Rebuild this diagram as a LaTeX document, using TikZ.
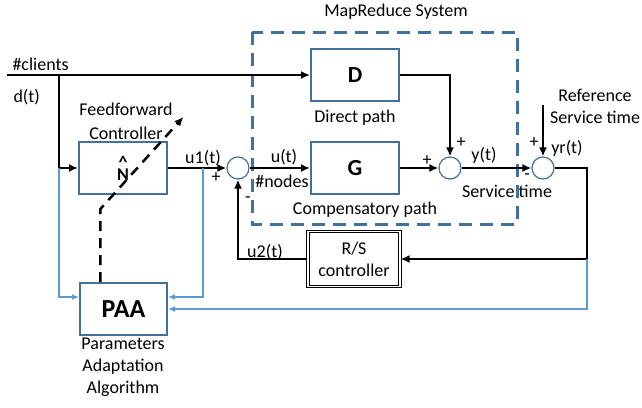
\documentclass[tikz,border=0pt]{standalone}
\usepackage{fontspec}
\setmainfont{Carlito}
\usetikzlibrary{arrows.meta,calc}
\definecolor{steel}{RGB}{65,113,156}
\definecolor{lblue}{RGB}{91,155,213}

\begin{document}
\begin{tikzpicture}[x=1pt, y=-1pt, font=\fontsize{18}{22}\selectfont, >={Latex[length=9pt,width=8pt]}]
\tikzstyle{block}=[draw=steel, line width=2pt, inner sep=0pt, minimum width=88pt, minimum height=52pt, text centered]
\tikzstyle{rsblock}=[draw, line width=1.3pt, double distance=1.2pt, inner sep=0pt, minimum width=92pt, minimum height=55pt, align=center]
\tikzstyle{sum}=[circle, draw=steel, line width=1.2pt, minimum size=22pt, inner sep=0pt]
\tikzstyle{line}=[line width=2.5pt]
\tikzstyle{bline}=[draw=lblue, line width=2pt, >={Latex[length=7pt,width=6pt]}]
\tikzstyle{aline}=[line width=2.5pt, dash pattern=on 10pt off 7pt]
\tikzstyle{big}=[font=\fontsize{23}{26}\selectfont\bfseries]
\useasboundingbox (0,0) rectangle (642,407);

% MapReduce system frame
\draw[steel, line width=3pt, dash pattern=on 13pt off 8pt] (252,32) rectangle (517,224);
\node (mr) at (396,12) {MapReduce System};

% blocks
\node[block, font=\fontsize{18}{12}\selectfont\bfseries, align=center] (ff) at (123,168) {\char`\^\\N};
\node[block, big] (D) at (355,75) {D};
\node[block, big] (G) at (355,168) {G};
\node[rsblock] (RS) at (354,259) {R/S\\controller};
\node[block, minimum width=87pt, font=\fontsize{26}{30}\selectfont\bfseries] (paa) at (123.5,309) {PAA};
\node[sum] (s0) at (238,168) {};
\node[sum] (s1) at (450,168) {};
\node[sum] (s2) at (543,168) {};

% labels
\node[anchor=west] (clients) at (9,64) {\#clients};
\node[anchor=west] (dt) at (10,97) {d(t)};
\node[align=center, font=\fontsize{18}{24}\selectfont] (fflab) at (126,121) {Feedforward\\Controller};
\node (u1) at (203,158) {u1(t)};
\node (p0) at (216,178) {+};
\node (m0) at (248,200) {-};
\node (ut) at (284,157) {u(t)};
\node (nodes) at (282,181) {\#nodes};
\node (dlab) at (355,118) {Direct path};
\node (glab) at (365,210) {Compensatory path};
\node (p1) at (461,143) {+};
\node (p2) at (427,161) {+};
\node (yt) at (484,155) {y(t)};
\node (svc) at (507,191) {Service time};
\node (m2) at (527,177) {-};
\node (p3) at (534,143) {+};
\node (yr) at (567,148) {yr(t)};
\node[align=center] (reflab) at (595,106) {Reference\\Service time};
\node (u2) at (265,252) {u2(t)};
\node[align=center] (paalab) at (123,367) {Parameters\\Adaptation\\Algorithm};

% connectors
\coordinate (dsrc) at (7,75);
\coordinate (dtap) at (59,75);
\coordinate (u1tap) at (203,168);
\coordinate (yref) at (543,105);
\coordinate (fbk) at (587,259);
\draw[line,->] (dsrc) -- (D.west);
\draw[line,->] (dtap) |- (ff.west);
\draw[line,->] (ff.east) -- (s0.west);
\draw[line,->] (s0.east) -- (G.west);
\draw[line,->] (G.east) -- (s1.west);
\draw[line,->] (D.east) -| (s1.north);
\draw[line,->] (s1.east) -- (s2.west);
\draw[line,->] (yref) -- (s2.north);
\draw[line,->] (s2.east) -| (fbk) -- (RS.east);
\draw[line,->] (RS.west) -| (s0.south);

% adaptation paths
\draw[bline,->] (dtap |- ff.west) |- ($(paa.west)+(0,-12)$);
\draw[bline,->] (u1tap) |- ($(paa.east)+(0,-12)$);
\draw[bline,->] (fbk) |- (paa.east);
\draw[aline,->] ($(paa.north west)!0.24!(paa.north east)$) -- ++(0,-73) -- ++(83,-92);
\end{tikzpicture}
\end{document}
